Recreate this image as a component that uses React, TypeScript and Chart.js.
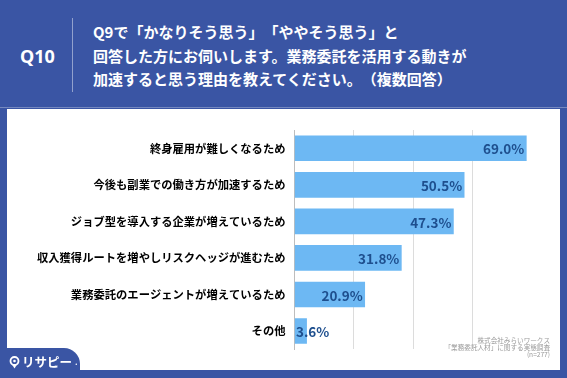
import React, { useEffect, useRef } from "react";
import { Chart, registerables } from "chart.js";

Chart.register(...registerables);

const categories: string[] = [
  "終身雇用が難しくなるため",
  "今後も副業での働き方が加速するため",
  "ジョブ型を導入する企業が増えているため",
  "収入獲得ルートを増やしリスクヘッジが進むため",
  "業務委託のエージェントが増えているため",
  "その他",
];
const values: number[] = [69.0, 50.5, 47.3, 31.8, 20.9, 3.6];
const questionNo = "Q10";
const questionLines: string[] = [
  "Q9で「かなりそう思う」「ややそう思う」と",
  "回答した方にお伺いします。業務委託を活用する動きが",
  "加速すると思う理由を教えてください。（複数回答）",
];
const footnotes: string[] = [
  "株式会社みらいワークス",
  "「業務委託人材」に関する実態調査",
  "(n=277)",
];

const BLUE = "#3A55A4";
const BAR = "#6DB8F3";
const LABEL = "#1E4F8E";
const FONT = "'Noto Sans CJK JP', 'Noto Sans', sans-serif";

const valueLabelPlugin = {
  id: "valueLabels",
  afterDatasetsDraw(chart: any) {
    const ctx = chart.ctx;
    const meta = chart.getDatasetMeta(0);
    ctx.save();
    ctx.font = `bold 13.5px ${FONT}`;
    ctx.fillStyle = LABEL;
    ctx.textBaseline = "middle";
    meta.data.forEach((bar: any, i: number) => {
      const text = values[i].toFixed(1) + "%";
      const w = ctx.measureText(text).width;
      const x = bar.x - 2;
      if (x - w < bar.base + 2) {
        ctx.textAlign = "left";
        ctx.fillText(text, bar.base + 1, bar.y + 1);
      } else {
        ctx.textAlign = "right";
        ctx.fillText(text, x, bar.y + 1);
      }
    });
    ctx.font = `6.6px ${FONT}`;
    ctx.fillStyle = "#9a9a9a";
    ctx.textAlign = "right";
    footnotes.forEach((t, i) => {
      ctx.fillText(t, 550, 340 + i * 7.2);
    });
    ctx.restore();
  },
};

export default function App() {
  const ref = useRef<HTMLCanvasElement | null>(null);
  useEffect(() => {
    if (!ref.current) return;
    const maxV = 70.6;
    const chart = new Chart(ref.current, {
      type: "bar",
      data: {
        labels: categories,
        datasets: [
          {
            data: values,
            backgroundColor: BAR,
            barThickness: 25,
            borderWidth: 0,
          },
        ],
      },
      options: {
        indexAxis: "y",
        animation: false,
        responsive: false,
        maintainAspectRatio: false,
        layout: { padding: { left: 0, top: 130, bottom: 28.7, right: 35.3 } },
        plugins: { legend: { display: false }, tooltip: { enabled: false } },
        scales: {
          x: {
            min: 0,
            max: maxV,
            ticks: { display: false, stepSize: 17.65 },
            grid: {
              drawTicks: false,
              color: (c: any) =>
                c.tick && c.tick.value > 0 && c.tick.value < maxV - 0.1 ? "#dcdcdc" : "rgba(0,0,0,0)",
              lineWidth: 1,
            },
            border: { display: false },
          },
          y: {
            afterFit: (s: any) => {
              s.width = 294.5;
            },
            ticks: {
              color: "#000000",
              font: { family: FONT, size: 11.3, weight: "bold" },
              padding: 9,
              autoSkip: false,
            },
            grid: { display: false, drawTicks: false },
            border: { display: true, color: "#bdbdbd", width: 1 },
          },
        },
      },
      plugins: [valueLabelPlugin],
    });
    return () => chart.destroy();
  }, []);

  return (
    <div
      style={{
        position: "fixed",
        left: 0,
        top: 0,
        width: 567,
        height: 378,
        background: BLUE,
        overflow: "hidden",
        fontFamily: FONT,
      }}
    >
      <div
        style={{
          position: "absolute",
          left: 0,
          top: 107,
          width: 567,
          height: 1,
          background: "rgba(255,255,255,0.3)",
        }}
      />
      <div
        style={{
          position: "absolute",
          left: 7,
          top: 109,
          width: 553,
          height: 261,
          background: "#ffffff",
        }}
      />
      <div
        style={{
          position: "absolute",
          left: 20,
          top: 44,
          color: "#fff",
          fontWeight: "bold",
          fontSize: 18,
          lineHeight: "24px",
          fontFamily: "'Noto Sans', " + FONT,
        }}
      >
        {questionNo}
      </div>
      <div
        style={{
          position: "absolute",
          left: 72,
          top: 18,
          width: 1,
          height: 74,
          background: "rgba(255,255,255,0.45)",
        }}
      />
      <div
        style={
          {
            position: "absolute",
            left: 93,
            top: 20,
            color: "#fff",
            fontWeight: "bold",
            fontSize: 15,
            lineHeight: "23.5px",
            whiteSpace: "nowrap",
            textSpacingTrim: "space-all",
          } as any
        }
      >
        {questionLines.map((l, i) => (
          <div key={i}>{l}</div>
        ))}
      </div>
      <canvas
        ref={ref}
        width={567}
        height={378}
        style={{ position: "absolute", left: 0, top: 0, width: 567, height: 378 }}
      />
      <div
        style={{
          position: "absolute",
          left: 0,
          top: 348,
          width: 80,
          height: 30,
          background: BLUE,
          borderTopRightRadius: 16,
        }}
      />
      <div
        style={{
          position: "absolute",
          left: 9,
          top: 354,
          color: "#fff",
          fontSize: 12.5,
          fontWeight: "bold",
          lineHeight: "16px",
          display: "flex",
          alignItems: "center",
          gap: 2,
        }}
      >
        <svg width="11" height="13" viewBox="0 0 11 13">
          <circle cx="5.5" cy="5" r="4" fill="none" stroke="#fff" strokeWidth="1.8" />
          <circle cx="5.5" cy="5" r="1.3" fill="#fff" />
          <path d="M3 8.5 L5.5 12.5 L8 8.5" fill="#fff" />
        </svg>
        <span>リサピー</span>
        <span style={{ fontSize: 8, marginLeft: 1 }}>.</span>
      </div>
    </div>
  );
}
